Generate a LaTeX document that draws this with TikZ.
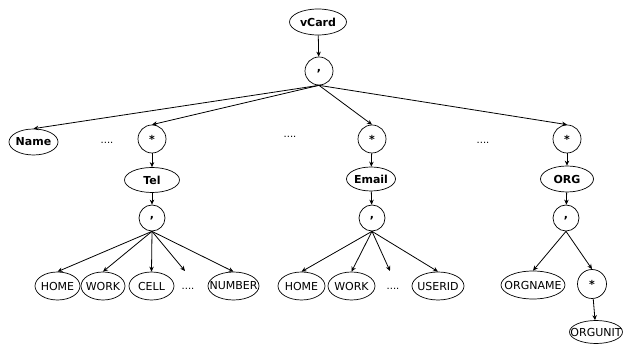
\documentclass[tikz,border=0pt]{standalone}
\usepackage{fontspec}
\setmainfont{DejaVu Sans}
\usetikzlibrary{shapes.geometric,arrows.meta}
\newcommand{\fx}[1]{\makebox[0pt]{#1}}
\begin{document}
\begin{tikzpicture}[x=1pt,y=-1pt,
  every node/.style={font=\fontsize{11}{13}\selectfont},
  ell/.style={ellipse,draw,line width=0.7pt,inner sep=0pt,minimum height=28pt},
  bell/.style={ellipse,draw,line width=0.7pt,inner sep=0pt,minimum height=26pt,font=\fontsize{11}{13}\selectfont\bfseries},
  circ/.style={circle,draw,line width=0.7pt,inner sep=0pt,minimum size=28pt,font=\fontsize{11}{13}\selectfont\bfseries},
  dots/.style={inner sep=0pt,font=\fontsize{10}{11}\selectfont},
  arr/.style={-{Stealth[length=5pt,width=4.5pt]},line width=0.8pt}]
\useasboundingbox (0,0) rectangle (630,347);
% top
\node[bell,minimum width=57pt] (vcard) at (318,22) {\fx{vCard}};
\node[circ] (c0) at (319,71) {,};
% level 2
\node[bell,minimum width=49pt] (name) at (33.5,142) {\fx{Name}};
\node[dots] (d1) at (107,143) {....};
\node[circ] (s1) at (152,139) {*};
\node[dots] (d2) at (290,137) {....};
\node[circ] (s2) at (372,139) {*};
\node[dots] (d3) at (483,143) {....};
\node[circ] (s3) at (567,139) {*};
% level 3
\node[bell,minimum width=55pt,minimum height=25pt] (tel) at (152,180) {\fx{Tel}};
\node[bell,minimum width=49pt,minimum height=24pt] (email) at (371,179) {\fx{Email}};
\node[bell,minimum width=53pt] (org) at (567,179) {\fx{ORG}};
% level 4
\node[circ,minimum size=26pt] (c1) at (152,218) {,};
\node[circ,minimum size=26pt] (c2) at (372,218) {,};
\node[circ,minimum size=26pt] (c3) at (566,218) {,};
% leaves
\node[ell,minimum width=45pt] (home1) at (57.5,286) {\fx{HOME}};
\node[ell,minimum width=44pt] (work1) at (103,286) {\fx{WORK}};
\node[ell,minimum width=45pt] (cell) at (151.5,286) {\fx{CELL}};
\node[dots] (d4) at (188,289) {....};
\coordinate (e4) at (185,271);
\node[ell,minimum width=51pt] (number) at (233.5,286) {\fx{NUMBER}};
\node[ell,minimum width=47pt] (home2) at (301.5,286) {\fx{HOME}};
\node[ell,minimum width=47pt] (work2) at (351.5,286) {\fx{WORK}};
\node[dots] (d5) at (393,289) {....};
\coordinate (e5) at (390,271);
\node[ell,minimum width=52pt] (userid) at (438,286) {\fx{USERID}};
\node[ell,minimum width=64pt] (orgname) at (533,285) {\fx{ORGNAME}};
\node[circ,minimum size=29pt] (s4) at (592,284) {*};
\node[ell,minimum width=53pt,minimum height=23pt] (orgunit) at (596,332) {\fx{ORGUNIT}};
% connectors
\draw[arr] (vcard) -- (c0);
\draw[arr] (c0.south) -- (name.north);
\draw[arr] (c0.south) -- (s1.north);
\draw[arr] (c0.south) -- (s2.north);
\draw[arr] (c0.south) -- (s3.north);
\draw[arr] (s1) -- (tel);
\draw[arr] (s2) -- (email);
\draw[arr] (s3) -- (org);
\draw[arr] (tel) -- (c1);
\draw[arr] (email) -- (c2);
\draw[arr] (org) -- (c3);
\draw[arr] (c1.south) -- (home1.north);
\draw[arr] (c1.south) -- (work1.north);
\draw[arr] (c1.south) -- (cell.north);
\draw[arr] (c1.south) -- (e4);
\draw[arr] (c1.south) -- (number.north);
\draw[arr] (c2.south) -- (home2.north);
\draw[arr] (c2.south) -- (work2.north);
\draw[arr] (c2.south) -- (e5);
\draw[arr] (c2.south) -- (userid.north);
\draw[arr] (c3.south) -- (orgname.north);
\draw[arr] (c3.south) -- (s4.north);
\draw[arr] (s4) -- (orgunit);
\end{tikzpicture}
\end{document}
